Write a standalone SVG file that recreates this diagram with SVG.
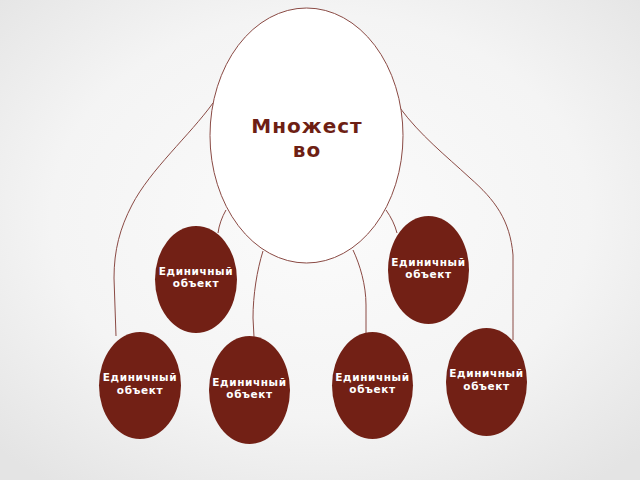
<svg xmlns="http://www.w3.org/2000/svg" width="640" height="480" viewBox="0 0 640 480">
<defs>
<radialGradient id="bg" cx="50%" cy="45%" r="70%">
<stop offset="0" stop-color="#fbfbfb"/>
<stop offset="0.6" stop-color="#f4f4f4"/>
<stop offset="1" stop-color="#e4e4e4"/>
</radialGradient>
</defs>
<style>
.obj{fill:#722015;}
.lbl{font-family:"DejaVu Sans",sans-serif;font-weight:bold;font-size:10.5px;fill:#ffffff;text-anchor:middle;letter-spacing:0.6px;}
.main{font-family:"DejaVu Sans",sans-serif;font-weight:bold;font-size:20px;fill:#6e1f14;text-anchor:middle;letter-spacing:1px;}
.con{fill:none;stroke:#8a4a44;stroke-width:1;}
</style>
<rect width="640" height="480" fill="url(#bg)"/>
<g id="connectors">
<path class="con" d="M213,103 C190,135 150,170 132,205 C120,228 114,250 114,278 L116,336"/>
<path class="con" d="M400,108 C420,135 445,155 470,178 C495,200 510,220 513,255 L513,340"/>
<path class="con" d="M226,210 C222,217 219,225 218,233"/>
<path class="con" d="M386,210 C391,217 395,225 397,233"/>
<path class="con" d="M263,251 C257,270 253,295 253,318 L254,337"/>
<path class="con" d="M353,250 C360,265 366,285 366,305 L366,333"/>
</g>
<g id="set">
<ellipse cx="306.5" cy="135.5" rx="96.5" ry="127.5" fill="#ffffff" stroke="#8a4a44" stroke-width="1"/>
<text class="main" x="307" y="133">Множест</text>
<text class="main" x="307" y="157">во</text>
</g>
<g id="obj1">
<ellipse class="obj" cx="196" cy="279.5" rx="41" ry="53.5"/>
<text class="lbl" x="196" y="275">Единичный</text>
<text class="lbl" x="196" y="287">объект</text>
</g>
<g id="obj2">
<ellipse class="obj" cx="428.5" cy="270" rx="40.5" ry="54"/>
<text class="lbl" x="428.5" y="266">Единичный</text>
<text class="lbl" x="428.5" y="278">объект</text>
</g>
<g id="obj3">
<ellipse class="obj" cx="140" cy="385.5" rx="41" ry="53.5"/>
<text class="lbl" x="140" y="381">Единичный</text>
<text class="lbl" x="140" y="394">объект</text>
</g>
<g id="obj4">
<ellipse class="obj" cx="249.5" cy="390" rx="40.5" ry="54"/>
<text class="lbl" x="249.5" y="386">Единичный</text>
<text class="lbl" x="249.5" y="398">объект</text>
</g>
<g id="obj5">
<ellipse class="obj" cx="372.5" cy="385.5" rx="40.5" ry="53.5"/>
<text class="lbl" x="372.5" y="381">Единичный</text>
<text class="lbl" x="372.5" y="393">объект</text>
</g>
<g id="obj6">
<ellipse class="obj" cx="486.5" cy="382" rx="40.5" ry="54"/>
<text class="lbl" x="486.5" y="377">Единичный</text>
<text class="lbl" x="486.5" y="390">объект</text>
</g>
</svg>
